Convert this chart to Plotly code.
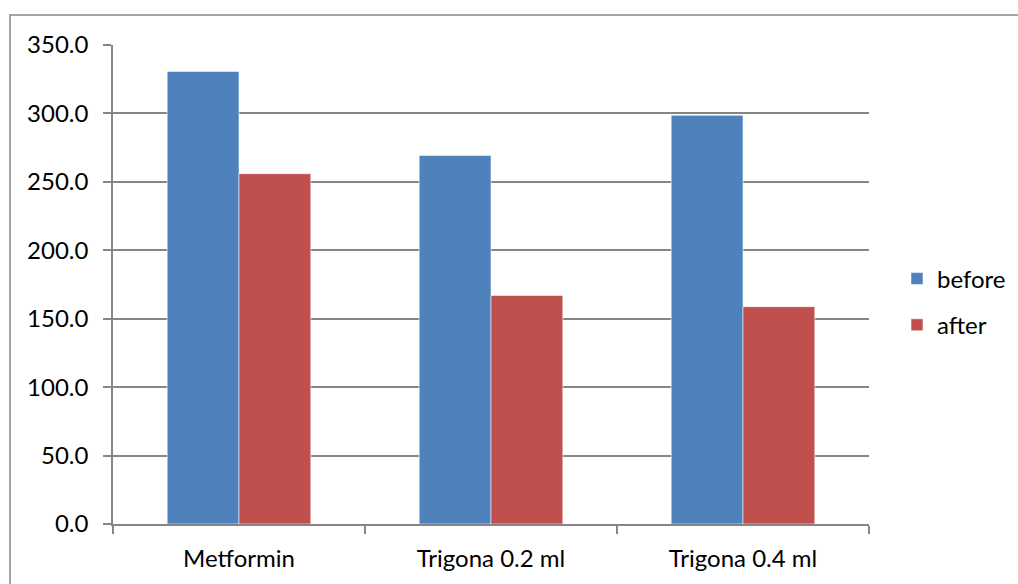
import plotly.graph_objects as go

categories = ["Metformin", "Trigona 0.2 ml", "Trigona 0.4 ml"]
before = [330.7, 269.3, 298.6]
after = [256.0, 167.0, 158.8]
series_names = ["before", "after"]
colors = ["#4F81BD", "#C0504D"]

W, H = 1018, 584
L, R, T, B = 113, 149, 45, 60
pw, ph = W - L - R, H - T - B

def px_to_paper_x(px):
    return (px - L) / pw

def px_to_paper_y(py):
    return (H - B - py) / ph

fig = go.Figure()
for name, vals, col, grp in zip(series_names, [before, after], colors, ["g1", "g2"]):
    fig.add_trace(go.Bar(
        x=categories, y=vals, name=name, legendgroup=grp,
        marker=dict(color=col, line=dict(color="rgba(255,255,255,0.55)", width=1)),
    ))

font = dict(family="Lato, Carlito, Calibri, sans-serif", size=24, color="#000000")

fig.update_layout(
    width=W, height=H,
    margin=dict(l=L, r=R, t=T, b=B, autoexpand=False),
    paper_bgcolor="white", plot_bgcolor="white",
    barmode="group", bargap=0.43, bargroupgap=0,
    font=font,
    showlegend=True,
    legend=dict(
        xref="container", yref="container",
        x=897 / W, y=1 - 302 / H, xanchor="left", yanchor="middle",
        font=font, tracegroupgap=12, itemwidth=30,
        bgcolor="rgba(0,0,0,0)",
    ),
    xaxis=dict(
        type="category", tickson="boundaries", ticks="outside", ticklen=8,
        tickcolor="#868686", tickwidth=1.5,
        showline=True, linecolor="#868686", linewidth=1.5,
        showgrid=False, tickfont=font, range=[-0.5, 2.5], ticklabelstandoff=12,
        automargin=False,
    ),
    yaxis=dict(
        range=[0, 350], dtick=50, tick0=0, tickformat=".1f",
        ticks="outside", ticklen=8, tickcolor="#868686", tickwidth=1.5,
        showline=True, linecolor="#868686", linewidth=1.5,
        showgrid=True, gridcolor="#868686", gridwidth=1.5,
        zeroline=False, tickfont=font, ticklabelstandoff=10,
        automargin=False,
    ),
    shapes=[dict(
        type="rect", xref="paper", yref="paper",
        x0=px_to_paper_x(10), x1=px_to_paper_x(1040),
        y0=px_to_paper_y(610), y1=px_to_paper_y(15),
        line=dict(color="#868686", width=1.5), fillcolor="rgba(0,0,0,0)", layer="below",
    )],
)

fig.write_html(
    "out.html",
    config={"displayModeBar": False},
    post_script="document.body.style.margin='0';document.body.style.overflow='hidden';",
)
